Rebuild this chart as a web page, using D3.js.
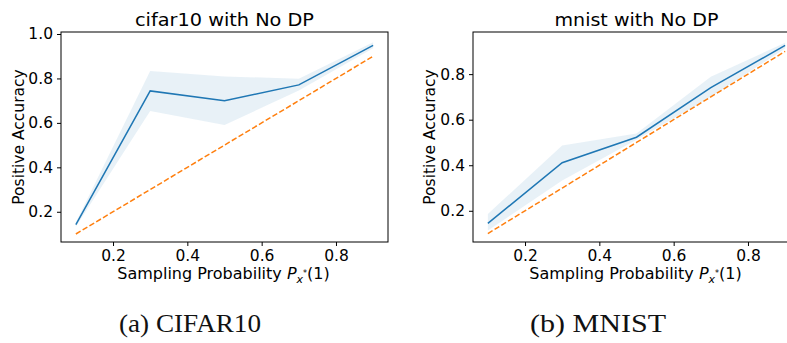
<!DOCTYPE html>
<html>
<head>
<meta charset="utf-8">
<script src="https://cdn.jsdelivr.net/npm/d3@7"></script>
<style>
  html, body { margin: 0; padding: 0; background: #fff; }
  svg { display: block; }
  .sans { font-family: "DejaVu Sans", sans-serif; fill: #000; }
  .serif { font-family: "Liberation Serif", "DejaVu Serif", serif; fill: #111; }
</style>
</head>
<body>
<svg id="fig" width="787" height="343"></svg>
<script>
// Sampling probabilities used in both experiments
const samplingProbs = [0.1, 0.3, 0.5, 0.7, 0.9];

// CIFAR10: mean positive accuracy with its spread
const cifarMean = [0.142, 0.744, 0.700, 0.771, 0.949];
const cifarLow  = [0.133, 0.654, 0.590, 0.746, 0.936];
const cifarHigh = [0.152, 0.833, 0.809, 0.799, 0.963];

// MNIST: mean positive accuracy with its spread
const mnistMean = [0.145, 0.411, 0.523, 0.741, 0.926];
const mnistLow  = [0.113, 0.333, 0.512, 0.700, 0.913];
const mnistHigh = [0.186, 0.487, 0.539, 0.788, 0.938];

// Reference line: accuracy equal to the sampling probability
const identityLine = [0.1, 0.3, 0.5, 0.7, 0.9];

// Tick labels
const xTicks = [0.2, 0.4, 0.6, 0.8];
const cifarYTicks = [0.2, 0.4, 0.6, 0.8, 1.0];
const mnistYTicks = [0.2, 0.4, 0.6, 0.8];

const titles = ["cifar10 with No DP", "mnist with No DP"];
const captions = ["(a) CIFAR10", "(b) MNIST"];

const svg = d3.select("#fig");
svg.append("rect").attr("width", 787).attr("height", 343).attr("fill", "#fff");

const BLUE = "#1f77b4", ORANGE = "#ff7f0e";

function panel(opts) {
  const { left, right, top, bottom, yDomain, yTicks, mean, low, high, title, titleWidth,
          caption, captionWidth, ylabelX, captionX } = opts;
  const x = d3.scaleLinear().domain([0.06, 0.94]).range([left, right]);
  const y = d3.scaleLinear().domain(yDomain).range([bottom, top]);
  const g = svg.append("g");

  const rows = samplingProbs.map((p, i) => ({ p, m: mean[i], lo: low[i], hi: high[i], id: identityLine[i] }));

  // spread band
  g.append("path")
    .datum(rows)
    .attr("d", d3.area().x(d => x(d.p)).y0(d => y(d.lo)).y1(d => y(d.hi)))
    .attr("fill", BLUE).attr("fill-opacity", 0.1);

  // mean line
  g.append("path")
    .datum(rows)
    .attr("d", d3.line().x(d => x(d.p)).y(d => y(d.m)))
    .attr("fill", "none").attr("stroke", BLUE).attr("stroke-width", 1.5);

  // identity reference
  g.append("path")
    .datum(rows)
    .attr("d", d3.line().x(d => x(d.p)).y(d => y(d.id)))
    .attr("fill", "none").attr("stroke", ORANGE).attr("stroke-width", 1.5)
    .attr("stroke-dasharray", "5.5,2.4");

  // axes
  const xAxis = g.append("g").attr("transform", `translate(0,${bottom})`)
    .call(d3.axisBottom(x).tickValues(xTicks).tickFormat(d3.format(".1f")).tickSizeOuter(0).tickSize(4).tickPadding(4));
  const yAxis = g.append("g").attr("transform", `translate(${left},0)`)
    .call(d3.axisLeft(y).tickValues(yTicks).tickFormat(d3.format(".1f")).tickSizeOuter(0).tickSize(4).tickPadding(4));
  [xAxis, yAxis].forEach(a => {
    a.select(".domain").remove();
    a.selectAll("line").attr("stroke", "#000").attr("stroke-width", 1);
    a.selectAll("text").attr("class", "sans").attr("font-family", null).attr("font-size", 15.5).attr("fill", "#000");
  });

  // frame
  g.append("rect")
    .attr("x", left).attr("y", top).attr("width", right - left).attr("height", bottom - top)
    .attr("fill", "none").attr("stroke", "#000").attr("stroke-width", 1);

  // title
  g.append("text").attr("class", "sans").attr("x", (left + right) / 2).attr("y", 26)
    .attr("text-anchor", "middle").attr("font-size", 18)
    .attr("textLength", titleWidth).attr("lengthAdjust", "spacingAndGlyphs").text(title);

  // y label
  g.append("text").attr("class", "sans")
    .attr("transform", `translate(${ylabelX},${(top + bottom) / 2}) rotate(-90)`)
    .attr("text-anchor", "middle").attr("font-size", 15.5).text("Positive Accuracy");

  // x label with math
  const xl = g.append("text").attr("class", "sans").attr("x", (left + right) / 2 - 1).attr("y", 279)
    .attr("text-anchor", "middle").attr("font-size", 16);
  xl.append("tspan").text("Sampling Probability ");
  xl.append("tspan").attr("font-style", "italic").text("P");
  xl.append("tspan").attr("font-style", "italic").attr("font-size", 11).attr("dy", 4).text("x");
  xl.append("tspan").attr("font-size", 8).attr("dy", -7).text("*");
  xl.append("tspan").attr("dy", 3).text("(1)");

  // caption
  svg.append("text").attr("class", "serif").attr("x", captionX).attr("y", 332)
    .attr("text-anchor", "middle").attr("font-size", 26)
    .attr("textLength", captionWidth).attr("lengthAdjust", "spacingAndGlyphs").text(caption);
}

panel({ left: 61, right: 388, top: 32, bottom: 242, yDomain: [0.064, 1.009], yTicks: cifarYTicks,
  mean: cifarMean, low: cifarLow, high: cifarHigh, title: titles[0], titleWidth: 179,
  caption: captions[0], captionWidth: 142, ylabelX: 24, captionX: 190 });
panel({ left: 473, right: 800, top: 32, bottom: 242, yDomain: [0.063, 0.985], yTicks: mnistYTicks,
  mean: mnistMean, low: mnistLow, high: mnistHigh, title: titles[1], titleWidth: 164,
  caption: captions[1], captionWidth: 136, ylabelX: 435, captionX: 598 });
</script>
</body>
</html>
